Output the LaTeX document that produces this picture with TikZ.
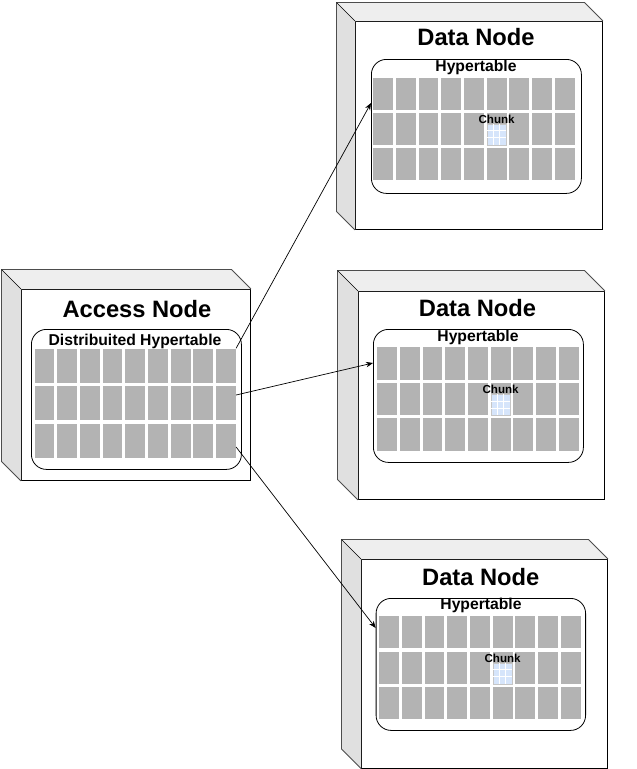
\documentclass[tikz,border=0pt]{standalone}
\usepackage{fontspec}
\setmainfont{Liberation Sans}
\usetikzlibrary{arrows.meta}

\definecolor{cellgray}{HTML}{B3B3B3}
\definecolor{topgray}{HTML}{EEEEEE}
\definecolor{sidegray}{HTML}{E0E0E0}
\definecolor{edgegray}{HTML}{4D4D4D}
\definecolor{chunkblue}{HTML}{D6E5FB}

\tikzset{
    front/.style={draw=black, fill=white, line width=0.9pt, inner sep=0, anchor=north west},
    hyper/.style={draw=black, fill=white, line width=0.8pt, rounded corners=15pt, inner sep=0, anchor=north west},
    cell/.style={fill=cellgray, draw=none, inner sep=0, minimum width=19.8, anchor=north west},
    chunk/.style={fill=chunkblue, draw=gray!45, line width=0.4pt, inner sep=0, minimum width=19, minimum height=21, anchor=south},
    title/.style={font=\bfseries\fontsize{23.7}{27}\selectfont, anchor=base, inner sep=0},
    tname/.style={font=\bfseries\fontsize{15.7}{18}\selectfont, anchor=base, inner sep=0},
    chunklbl/.style={font=\bfseries\fontsize{11.6}{13}\selectfont, anchor=base, inner sep=0},
    link/.style={-{Stealth[length=7pt,width=5.5pt]}, line width=0.7pt}
}

% side and top faces behind a front node
\newcommand{\boxfaces}[2]{%
    \fill[topgray] (#1.north west) -- ++(-#2,-#2) -- ([shift={(-#2,-#2)}]#1.north east) -- (#1.north east) -- cycle;
    \fill[sidegray] (#1.north west) -- ++(-#2,-#2) -- ([shift={(-#2,-#2)}]#1.south west) -- (#1.south west) -- cycle;
    \draw[edgegray, line width=0.9pt] (#1.north east) -- ++(-#2,-#2) -- ([shift={(-#2,-#2)}]#1.north west)
        -- ([shift={(-#2,-#2)}]#1.south west) -- (#1.south west);
    \draw[black, line width=0.6pt] (#1.north west) -- ++(-#2,-#2);
}

% 3 x 9 table of cells: prefix, x, y, cell height, row pitch
\newcommand{\tablegrid}[5]{%
    \foreach \r in {1,2,3}
        \foreach \c in {1,...,9}
            \node[cell, minimum height=#4] (#1-\r-\c) at ({#2+(\c-1)*22.7},{#3+(\r-1)*#5}) {};
}

% chunk with 3 x 3 grid on a cell
\newcommand{\chunkcell}[2]{%
    \node[chunk] (#1) at (#2.south) {};
    \foreach \f in {-3.17,3.17}
        \draw[white, line width=0.6pt] ([xshift=\f pt]#1.north) -- ([xshift=\f pt]#1.south);
    \foreach \f in {-3.5,3.5}
        \draw[white, line width=0.6pt] ([yshift=\f pt]#1.west) -- ([yshift=\f pt]#1.east);
    \node[chunklbl] at ([yshift=0.5pt]#1.north) {Chunk};
}

\begin{document}
\begin{tikzpicture}[x=1pt, y=-1pt]
    \useasboundingbox (0,0) rectangle (637,769);

    % Access node
    \node[front, minimum width=229, minimum height=191] (an) at (21,289) {};
    \boxfaces{an}{19.5}
    \node[hyper, minimum width=210, minimum height=140] (ht) at (31,329) {};
    \tablegrid{ac}{34.3}{348.3}{34.4}{37.5}
    \node[title] at (137,317.7) {Access Node};
    \node[tname] at (135,345) {Distribuited Hypertable};

    % Data node 1
    \node[front, minimum width=247, minimum height=208] (dn1) at (355,21) {};
    \boxfaces{dn1}{18.5}
    \node[hyper, minimum width=210, minimum height=134] (h1) at (371,59) {};
    \tablegrid{d1}{373}{78}{31.5}{35}
    \chunkcell{ch1}{d1-2-6}
    \node[title] at (476,45.5) {Data Node};
    \node[tname] at (476,71) {Hypertable};

    % Data node 2
    \node[front, minimum width=246, minimum height=208] (dn2) at (358,291) {};
    \boxfaces{dn2}{20.5}
    \node[hyper, minimum width=210, minimum height=133] (h2) at (373,329) {};
    \tablegrid{d2}{377}{347}{32.5}{35.5}
    \chunkcell{ch2}{d2-2-6}
    \node[title] at (477.5,316.7) {Data Node};
    \node[tname] at (478,341) {Hypertable};

    % Data node 3
    \node[front, minimum width=246, minimum height=208.7] (dn3) at (361,559) {};
    \boxfaces{dn3}{19.5}
    \node[hyper, minimum width=209.5, minimum height=132] (h3) at (375.7,598) {};
    \tablegrid{d3}{379}{616}{32}{35.5}
    \chunkcell{ch3}{d3-2-6}
    \node[title] at (480.8,585) {Data Node};
    \node[tname] at (481,609.3) {Hypertable};

    % Links
    \draw[link] (ac-1-9.north east) -- (h1.west |- 0,103);
    \draw[link] (ac-2-9.east |- 0,395) -- (h2.west |- 0,363);
    \draw[link] (ac-3-9.east |- 0,447) -- (h3.west |- 0,628);
\end{tikzpicture}
\end{document}
